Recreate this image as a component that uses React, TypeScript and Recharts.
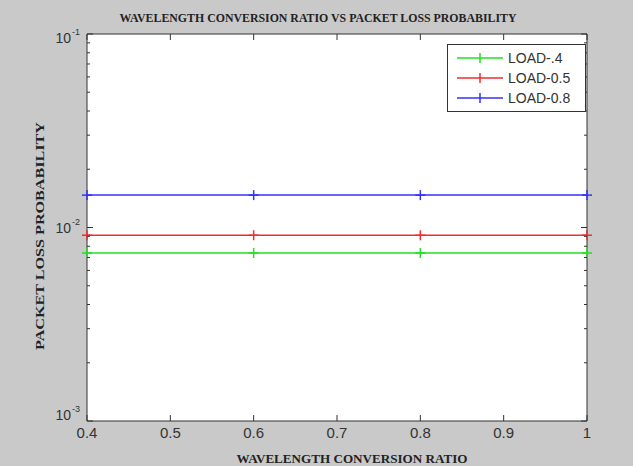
import { LineChart, Line, XAxis, YAxis, CartesianGrid } from 'recharts';

// conversion ratio samples (x) and packet loss probability per load
const ratios = [0.4, 0.6, 0.8, 1.0];
const loadPoint4 = [0.00738, 0.00738, 0.00738, 0.00738];
const loadPoint5 = [0.00912, 0.00912, 0.00912, 0.00912];
const loadPoint8 = [0.0147, 0.0147, 0.0147, 0.0147];

const xTicks = [0.4, 0.5, 0.6, 0.7, 0.8, 0.9, 1];
const yMajor = [0.001, 0.01, 0.1];
const yTicks = [
  0.001, 0.002, 0.003, 0.004, 0.005, 0.006, 0.007, 0.008, 0.009,
  0.01, 0.02, 0.03, 0.04, 0.05, 0.06, 0.07, 0.08, 0.09, 0.1,
];

const series = [
  { key: 'l4', name: 'LOAD-.4', color: '#22e022', values: loadPoint4 },
  { key: 'l5', name: 'LOAD-0.5', color: '#ee2e2e', values: loadPoint5 },
  { key: 'l8', name: 'LOAD-0.8', color: '#3333f5', values: loadPoint8 },
];

const data = ratios.map((r, i) => ({
  ratio: r,
  l4: loadPoint4[i],
  l5: loadPoint5[i],
  l8: loadPoint8[i],
}));

const AXIS = '#333';
const NUM_FONT = 'Arial, "Liberation Sans", sans-serif';
const SERIF = '"Times New Roman", "Liberation Serif", serif';

const isMajor = (v: number) => yMajor.some((m) => Math.abs(m - v) < 1e-9);
const expOf = (v: number) => Math.round(Math.log10(v));

function LeftTick({ x, y, payload }: any) {
  const v = payload.value;
  if (!isMajor(v)) return <line x1={x} x2={x + 3} y1={y} y2={y} stroke={AXIS} />;
  const e = expOf(v);
  const dy = e === -1 ? 4 : e === -3 ? -6 : 0;
  return (
    <g>
      <line x1={x} x2={x + 6} y1={y} y2={y} stroke={AXIS} />
      <text x={x - 16} y={y + dy + 5} textAnchor="end" fontSize={14} fontFamily={NUM_FONT} fill="#333">
        10
      </text>
      <text x={x - 15} y={y + dy - 3} fontSize={9} fontFamily={NUM_FONT} fill="#333">
        {e}
      </text>
    </g>
  );
}

function RightTick({ x, y, payload }: any) {
  const len = isMajor(payload.value) ? 6 : 3;
  return <line x1={x} x2={x - len} y1={y} y2={y} stroke={AXIS} />;
}

function BottomTick({ x, y, payload }: any) {
  return (
    <g>
      <line x1={x} x2={x} y1={y} y2={y - 6} stroke={AXIS} />
      <text x={x} y={y + 17} textAnchor="middle" fontSize={15} fontFamily={NUM_FONT} fill="#333">
        {payload.value}
      </text>
    </g>
  );
}

function TopTick({ x, y }: any) {
  return <line x1={x} x2={x} y1={y} y2={y + 6} stroke={AXIS} />;
}

function PlusDot({ cx, cy, stroke }: any) {
  if (cx == null || cy == null) return null;
  return (
    <g>
      <line x1={cx} x2={cx} y1={cy - 5} y2={cy + 5} stroke={stroke} strokeWidth={1.5} />
      <line x1={cx - 5} x2={cx + 5} y1={cy} y2={cy} stroke={stroke} strokeWidth={1.5} />
    </g>
  );
}

export default function App() {
  return (
    <div style={{ position: 'absolute', left: 0, top: 0, width: 633, height: 466, background: '#c9c9c9' }}>
      <LineChart width={633} height={466} data={data} margin={{ top: 33, right: 45, bottom: 44, left: 86 }}>
        <CartesianGrid horizontal={false} vertical={false} fill="#ffffff" />
        <XAxis
          dataKey="ratio"
          type="number"
          domain={[0.4, 1]}
          ticks={xTicks}
          height={1}
          tickSize={0}
          tickMargin={0}
          tickLine={false}
          stroke={AXIS}
          tick={<BottomTick />}
          interval={0}
        />
        <XAxis
          xAxisId="top"
          orientation="top"
          type="number"
          dataKey="ratio"
          domain={[0.4, 1]}
          ticks={xTicks}
          height={1}
          tickSize={0}
          tickMargin={0}
          tickLine={false}
          stroke={AXIS}
          tick={<TopTick />}
          interval={0}
        />
        <YAxis
          scale="log"
          type="number"
          domain={[0.001, 0.1]}
          ticks={yTicks}
          allowDataOverflow
          width={1}
          tickSize={0}
          tickMargin={0}
          tickLine={false}
          stroke={AXIS}
          tick={<LeftTick />}
          interval={0}
        />
        <YAxis
          yAxisId="right"
          orientation="right"
          scale="log"
          type="number"
          domain={[0.001, 0.1]}
          ticks={yTicks}
          allowDataOverflow
          width={1}
          tickSize={0}
          tickMargin={0}
          tickLine={false}
          stroke={AXIS}
          tick={<RightTick />}
          interval={0}
        />
        {series.map((s) => (
          <Line
            key={s.key}
            dataKey={s.key}
            name={s.name}
            stroke={s.color}
            strokeWidth={1.5}
            type="linear"
            dot={<PlusDot />}
            activeDot={false}
            isAnimationActive={false}
          />
        ))}
      </LineChart>

      <svg width={633} height={466} style={{ position: 'absolute', left: 0, top: 0, pointerEvents: 'none' }}>
        <text x={318} y={22} textAnchor="middle" fontFamily={SERIF} fontWeight="bold" fontSize={13}
          textLength={397} lengthAdjust="spacingAndGlyphs" fill="#222">
          WAVELENGTH CONVERSION RATIO VS PACKET LOSS PROBABILITY
        </text>
        <text x={352} y={463} textAnchor="middle" fontFamily={SERIF} fontWeight="bold" fontSize={13}
          textLength={231} lengthAdjust="spacingAndGlyphs" fill="#222">
          WAVELENGTH CONVERSION RATIO
        </text>
        <text x={0} y={0} transform="translate(44 236) rotate(-90)" textAnchor="middle" fontFamily={SERIF}
          fontWeight="bold" fontSize={13} textLength={228} lengthAdjust="spacingAndGlyphs" fill="#222">
          PACKET LOSS PROBABILITY
        </text>
      </svg>

      <div
        style={{
          position: 'absolute',
          left: 447,
          top: 44,
          width: 137,
          height: 66,
          background: '#fff',
          border: '1px solid #333',
          fontFamily: NUM_FONT,
          fontSize: 14,
          color: '#333',
        }}
      >
        {series.map((s, i) => (
          <div key={s.key} style={{ position: 'absolute', left: 8, top: 4 + i * 20, height: 18, display: 'flex', alignItems: 'center' }}>
            <svg width={48} height={18}>
              <line x1={1} x2={47} y1={9} y2={9} stroke={s.color} strokeWidth={1.5} />
              <line x1={24} x2={24} y1={4} y2={14} stroke={s.color} strokeWidth={1.5} />
            </svg>
            <span style={{ marginLeft: 4 }}>{s.name}</span>
          </div>
        ))}
      </div>
    </div>
  );
}
